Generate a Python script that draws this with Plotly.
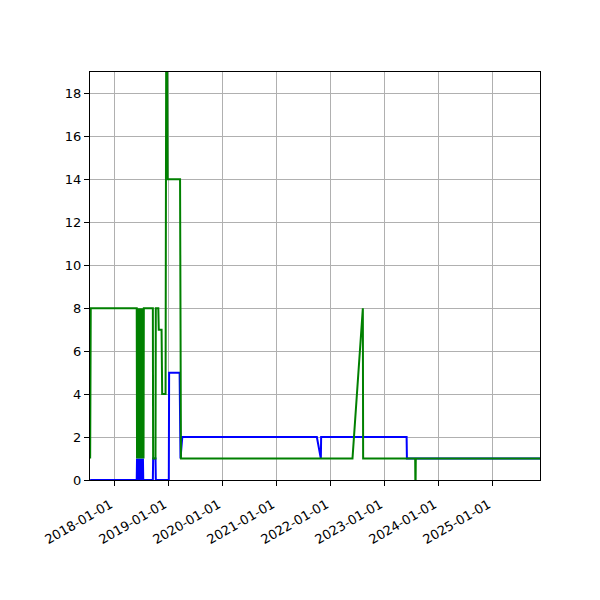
import plotly.graph_objects as go

# blue series
blue_dates = [
    "2017-07-21", "2018-06-01",
    "2018-06-03", "2018-06-05", "2018-06-07", "2018-06-09", "2018-06-11",
    "2018-06-13", "2018-06-15", "2018-06-17", "2018-06-19", "2018-06-21",
    "2018-06-23", "2018-06-25", "2018-06-27", "2018-06-29", "2018-07-01",
    "2018-07-03", "2018-07-05", "2018-07-07", "2018-07-09", "2018-07-11",
    "2018-07-13", "2018-07-15", "2018-07-17",
    "2018-09-18", "2018-09-20", "2018-10-06", "2018-10-08",
    "2019-01-04", "2019-01-06", "2019-03-18", "2019-03-24", "2019-04-05",
    "2021-10-01", "2021-10-28", "2021-10-30",
    "2023-05-31", "2023-06-02", "2025-11-18",
]
blue_vals = [
    0, 0,
    1, 0, 1, 0, 1,
    0, 1, 0, 1, 0,
    1, 0, 1, 0, 1,
    0, 1, 0, 1, 0,
    1, 0, 0,
    0, 1, 1, 0,
    0, 5, 5, 1, 2,
    2, 1, 2,
    2, 1, 1,
]

# green series
green_dates = [
    "2017-07-21", "2017-07-25", "2018-06-01",
    "2018-06-03", "2018-06-05", "2018-06-07", "2018-06-09", "2018-06-11",
    "2018-06-13", "2018-06-15", "2018-06-17", "2018-06-19", "2018-06-21",
    "2018-06-23", "2018-06-25", "2018-06-27", "2018-06-29", "2018-07-01",
    "2018-07-03", "2018-07-05", "2018-07-07", "2018-07-09", "2018-07-11",
    "2018-07-13", "2018-07-15", "2018-07-17", "2018-07-19", "2018-07-21",
    "2018-09-18", "2018-09-20", "2018-10-06", "2018-10-08",
    "2018-10-25", "2018-10-28", "2018-11-16", "2018-11-20",
    "2018-12-13", "2018-12-17", "2018-12-24", "2018-12-27",
    "2019-03-21", "2019-03-27",
    "2022-05-30", "2022-08-08", "2022-08-10",
    "2023-07-28", "2023-07-29", "2023-07-30", "2023-07-31", "2023-08-01",
    "2025-11-18",
]
green_vals = [
    1, 8, 8,
    1, 8, 1, 8, 1,
    8, 1, 8, 1, 8,
    1, 8, 1, 8, 1,
    8, 1, 8, 1, 8,
    1, 8, 1, 8, 8,
    8, 1, 1, 8,
    8, 7, 7, 4,
    4, 19, 19, 14,
    14, 1,
    1, 8, 1,
    1, 0, 1, 0, 1,
    1,
]

year_ticks = ["2018-01-01", "2019-01-01", "2020-01-01", "2021-01-01",
              "2022-01-01", "2023-01-01", "2024-01-01", "2025-01-01"]

fig = go.Figure()
fig.add_trace(go.Scatter(x=blue_dates, y=blue_vals, mode="lines",
                         line=dict(color="#0000ff", width=2, simplify=False)))
fig.add_trace(go.Scatter(x=green_dates, y=green_vals, mode="lines",
                         line=dict(color="#008000", width=2, simplify=False)))

axis_common = dict(
    showline=True, mirror=True, linecolor="black", linewidth=1.1,
    showgrid=True, gridcolor="#b0b0b0", gridwidth=1.1,
    ticks="outside", ticklen=5, tickwidth=1.1, tickcolor="black",
    zeroline=False,
)
fig.update_xaxes(type="date", range=["2017-07-20", "2025-11-18"],
                 tickvals=year_ticks, tickformat="%Y-%m-%d", tickangle=-30,
                 ticklabelshift=-4, ticklabelstandoff=6,
                 **axis_common)
fig.update_yaxes(range=[0, 19], tick0=0, dtick=2, **axis_common)

fig.update_layout(
    width=592, height=592, autosize=False,
    margin=dict(l=82, r=60, t=64, b=120),
    plot_bgcolor="white", paper_bgcolor="white",
    showlegend=False,
    font=dict(family="DejaVu Sans", size=13, color="black"),
)

fig.write_html("out.html")
